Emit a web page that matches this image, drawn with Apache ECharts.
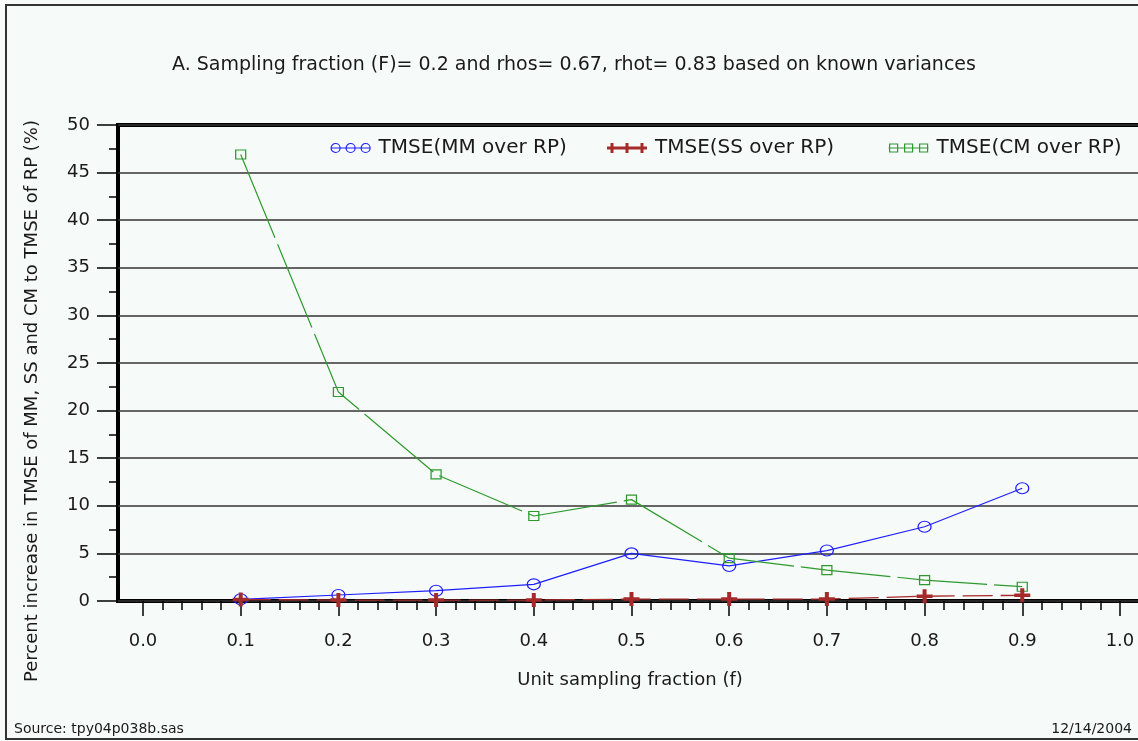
<!DOCTYPE html>
<html>
<head>
<meta charset="utf-8">
<script src="https://cdn.jsdelivr.net/npm/echarts@6/dist/echarts.min.js"></script>
<style>
  html, body { margin: 0; padding: 0; background: #f6faf8; }
  #chart { width: 1138px; height: 741px; }
</style>
</head>
<body>
<div id="chart"></div>
<script>
// Unit sampling fraction (f)
const fractions = [0.1, 0.2, 0.3, 0.4, 0.5, 0.6, 0.7, 0.8, 0.9];
// Percent increase in TMSE relative to RP
const mmOverRp = [0.18, 0.63, 1.08, 1.75, 5.0, 3.68, 5.3, 7.8, 11.85];
const ssOverRp = [0.15, 0.1, 0.1, 0.1, 0.2, 0.2, 0.2, 0.5, 0.6];
const cmOverRp = [46.9, 21.95, 13.3, 8.93, 10.65, 4.5, 3.25, 2.2, 1.5];

const seriesNames = ['TMSE(MM over RP)', 'TMSE(SS over RP)', 'TMSE(CM over RP)'];
const xTickLabels = [0.0, 0.1, 0.2, 0.3, 0.4, 0.5, 0.6, 0.7, 0.8, 0.9, 1.0];

const FONT = 'DejaVu Sans';
const TEXT = '#1a1a1a';
const BLUE = '#1e1eff';
const RED = '#a52a2a';
const GREEN = '#2e9a2e';

// horizontal scale runs a little past both ends of 0..1
const X_MIN = -0.0256;
const X_MAX = 1.0287;

// minor x ticks every 0.02 between the labelled ones
const xMinorTicks = [];
for (let i = 0; i <= 50; i++) {
  if (i % 5 !== 0) xMinorTicks.push(+(i * 0.02).toFixed(2));
}

const pairs = (ys) => fractions.map((x, i) => [x, ys[i]]);

const plusSymbol = 'path://M6,0H10V6H16V10H10V16H6V10H0V6H6Z';
const legendCircles = 'path://M0,5L40,5M0.5,5A4.5,4.5,0,1,1,9.5,5A4.5,4.5,0,1,1,0.5,5ZM15.5,5A4.5,4.5,0,1,1,24.5,5A4.5,4.5,0,1,1,15.5,5ZM30.5,5A4.5,4.5,0,1,1,39.5,5A4.5,4.5,0,1,1,30.5,5Z';
const legendPluses = 'path://M0,3.5H40V6.5H0ZM3.5,0H6.5V10H3.5ZM18.5,0H21.5V10H18.5ZM33.5,0H36.5V10H33.5Z';
const legendSquares = 'path://M0,5L40,5M1,1H9V9H1ZM16,1H24V9H16ZM31,1H39V9H31Z';

const legendBase = {
  top: 138,
  padding: 0,
  itemWidth: 40,
  itemHeight: 10,
  itemGap: 0,
  selectedMode: false,
  textStyle: { fontFamily: FONT, fontSize: 20, color: TEXT, padding: [0, 0, 0, 3] }
};

const chart = echarts.init(document.getElementById('chart'), null, { renderer: 'canvas' });

chart.setOption({
  backgroundColor: '#f6faf8',
  animation: false,
  title: {
    text: 'A. Sampling fraction (F)= 0.2 and rhos= 0.67, rhot= 0.83 based on known variances',
    left: 574,
    top: 56,
    textAlign: 'center',
    padding: 0,
    textStyle: { fontFamily: FONT, fontSize: 19, fontWeight: 'normal', color: TEXT }
  },
  legend: [
    Object.assign({}, legendBase, {
      left: 330,
      data: [{ name: seriesNames[0], icon: legendCircles,
        itemStyle: { color: 'rgba(0,0,0,0)', borderColor: BLUE, borderWidth: 1.2 } }]
    }),
    Object.assign({}, legendBase, {
      left: 607,
      data: [{ name: seriesNames[1], icon: legendPluses,
        itemStyle: { color: RED, borderWidth: 0 } }]
    }),
    Object.assign({}, legendBase, {
      left: 888,
      data: [{ name: seriesNames[2], icon: legendSquares,
        itemStyle: { color: 'rgba(0,0,0,0)', borderColor: GREEN, borderWidth: 1.2 } }]
    })
  ],
  grid: {
    left: 118,
    right: -10,
    top: 125,
    bottom: 140,
    outerBoundsMode: 'none',
    containLabel: false,
    show: true,
    borderColor: '#000',
    borderWidth: 4,
    backgroundColor: 'transparent'
  },
  xAxis: [
    {
      type: 'value',
      min: X_MIN,
      max: X_MAX,
      position: 'bottom',
      axisLine: { show: false, onZero: false },
      splitLine: { show: false },
      axisTick: { show: true, customValues: xTickLabels, length: 15, lineStyle: { color: '#000', width: 1.5 } },
      axisLabel: {
        customValues: xTickLabels,
        formatter: (v) => v.toFixed(1),
        fontFamily: FONT, fontSize: 18, color: TEXT, margin: 31
      }
    },
    {
      type: 'value',
      min: X_MIN,
      max: X_MAX,
      position: 'bottom',
      offset: 0,
      axisLine: { show: false, onZero: false },
      splitLine: { show: false },
      axisTick: { show: true, customValues: xMinorTicks, length: 9, lineStyle: { color: '#000', width: 1.5 } },
      axisLabel: { show: false }
    }
  ],
  yAxis: {
    type: 'value',
    min: 0,
    max: 50,
    interval: 5,
    axisLine: { show: false, onZero: false },
    axisTick: { show: true, inside: false, length: 21, lineStyle: { color: '#000', width: 1.5 } },
    minorTick: { show: true, splitNumber: 2, length: 9, lineStyle: { color: '#000', width: 1.5 } },
    splitLine: { show: true, lineStyle: { color: '#333', width: 1.5 } },
    axisLabel: { fontFamily: FONT, fontSize: 18, color: TEXT, margin: 28 }
  },
  graphic: [
    {
      type: 'rect',
      silent: true,
      shape: { x: 6, y: 5, width: 1200, height: 734 },
      style: { fill: 'none', stroke: '#333', lineWidth: 2 },
      z: 100
    },
    {
      type: 'text',
      x: 32,
      y: 401,
      rotation: Math.PI / 2,
      style: {
        text: 'Percent increase in TMSE of MM, SS and CM to TMSE of RP (%)',
        fontFamily: FONT, fontSize: 18, fill: TEXT,
        textAlign: 'center', textVerticalAlign: 'middle'
      }
    },
    {
      type: 'text',
      x: 630,
      y: 680,
      style: {
        text: 'Unit sampling fraction (f)',
        fontFamily: FONT, fontSize: 18, fill: TEXT,
        textAlign: 'center', textVerticalAlign: 'middle'
      }
    },
    {
      type: 'text',
      x: 14,
      y: 729,
      style: {
        text: 'Source: tpy04p038b.sas',
        fontFamily: FONT, fontSize: 14, fill: TEXT,
        textAlign: 'left', textVerticalAlign: 'middle'
      }
    },
    {
      type: 'text',
      x: 1132,
      y: 729,
      style: {
        text: '12/14/2004',
        fontFamily: FONT, fontSize: 14, fill: TEXT,
        textAlign: 'right', textVerticalAlign: 'middle'
      }
    }
  ],
  series: [
    {
      name: seriesNames[0],
      type: 'line',
      data: pairs(mmOverRp),
      symbol: 'circle',
      symbolSize: [13, 11],
      itemStyle: { color: 'rgba(0,0,0,0)', borderColor: BLUE, borderWidth: 1.2 },
      lineStyle: { color: BLUE, width: 1.2, type: 'solid' },
      z: 3
    },
    {
      name: seriesNames[1],
      type: 'line',
      data: pairs(ssOverRp),
      symbol: plusSymbol,
      symbolSize: [16, 14],
      itemStyle: { color: RED, borderWidth: 0 },
      lineStyle: { color: RED, width: 1.3, type: [30, 8] },
      z: 4
    },
    {
      name: seriesNames[2],
      type: 'line',
      data: pairs(cmOverRp),
      symbol: 'rect',
      symbolSize: [10, 9],
      itemStyle: { color: 'rgba(0,0,0,0)', borderColor: GREEN, borderWidth: 1.2 },
      lineStyle: { color: GREEN, width: 1.2, type: [90, 7] },
      z: 3
    }
  ]
});
</script>
</body>
</html>
